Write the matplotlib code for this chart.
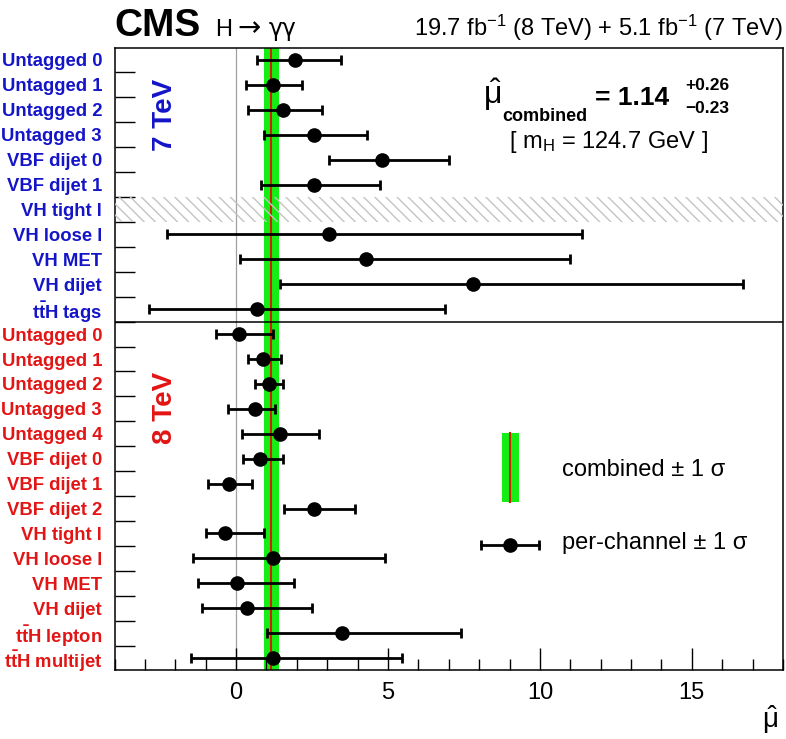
import matplotlib
matplotlib.use("Agg")
import matplotlib.pyplot as plt
from matplotlib.patches import Rectangle
from matplotlib.ticker import MultipleLocator
import numpy as np

plt.rcParams["font.family"] = ["Liberation Sans", "DejaVu Sans"]
plt.rcParams["mathtext.fontset"] = "custom"
plt.rcParams["mathtext.rm"] = "Liberation Sans"
plt.rcParams["mathtext.it"] = "Liberation Sans:italic"
plt.rcParams["mathtext.bf"] = "Liberation Sans:bold"

TTH = r"t$\mathbf{\bar{t}}$H"

# 7 TeV channels (nan = no measurement, drawn hatched)
labels_7tev = ["Untagged 0", "Untagged 1", "Untagged 2", "Untagged 3",
               "VBF dijet 0", "VBF dijet 1", "VH tight l", "VH loose l",
               "VH MET", "VH dijet", TTH + " tags"]
mu_7tev = [1.94, 1.20, 1.56, 2.58, 4.81, 2.57, np.nan, 3.06, 4.29, 7.80, 0.68]
lo_7tev = [0.69, 0.32, 0.39, 0.92, 3.05, 0.81, np.nan, -2.28, 0.13, 1.43, -2.88]
hi_7tev = [3.44, 2.18, 2.82, 4.32, 7.00, 4.73, np.nan, 11.37, 11.00, 16.68, 6.88]

# 8 TeV channels
labels_8tev = ["Untagged 0", "Untagged 1", "Untagged 2", "Untagged 3", "Untagged 4",
               "VBF dijet 0", "VBF dijet 1", "VBF dijet 2", "VH tight l",
               "VH loose l", "VH MET", "VH dijet", TTH + " lepton", TTH + " multijet"]
mu_8tev = [0.10, 0.89, 1.09, 0.61, 1.44, 0.79, -0.23, 2.57, -0.37, 1.20, 0.04, 0.36, 3.49, 1.20]
lo_8tev = [-0.65, 0.39, 0.63, -0.26, 0.19, 0.22, -0.93, 1.57, -1.00, -1.43, -1.24, -1.13, 1.03, -1.49]
hi_8tev = [1.20, 1.47, 1.56, 1.27, 2.73, 1.55, 0.52, 3.90, 0.93, 4.91, 1.91, 2.51, 7.39, 5.45]

mu_comb = 1.14
err_up = 0.26
err_dn = 0.23

BLUE = "#1414c8"
RED = "#e31414"
GREEN = "#14ee14"
LINE_RED = "#cc2200"

labels = labels_7tev + labels_8tev
colors = [BLUE] * len(labels_7tev) + [RED] * len(labels_8tev)
mu = np.array(mu_7tev + mu_8tev)
lo = np.array(lo_7tev + lo_8tev)
hi = np.array(hi_7tev + hi_8tev)
rows = np.arange(len(labels))

fig = plt.figure(figsize=(7.86, 7.39), dpi=100)
ax = fig.add_axes([0.1457, 0.0927, 0.8505, 0.843])

ax.axvspan(mu_comb - err_dn, mu_comb + err_up, color=GREEN, lw=0, zorder=1)
ax.axvline(mu_comb, color=LINE_RED, lw=1.5, zorder=2)
ax.axvline(0, color="#a0a0a0", lw=0.9, zorder=0.5)

for r in rows[np.isnan(mu)]:
    ax.axhspan(r - 0.5, r + 0.5, facecolor="none", edgecolor="#c4c4c4",
               hatch="\\\\\\", lw=0, zorder=3)

ax.axhline(len(labels_7tev) - 0.5, color="black", lw=1.1, zorder=4)

ax.errorbar(mu, rows, xerr=[mu - lo, hi - mu], fmt="o", color="black",
            ms=9.5, elinewidth=2, capsize=3.6, capthick=2, zorder=5)

ax.set_xlim(-4, 18)
ax.set_ylim(len(labels) - 0.5, -0.5)

ax.set_xticks([0, 5, 10, 15])
ax.xaxis.set_minor_locator(MultipleLocator(1))
ax.tick_params(axis="x", which="major", direction="in", length=16, width=1,
               labelsize=17, pad=8, top=False)
ax.tick_params(axis="x", which="minor", direction="in", length=8, width=1, top=False)

ax.set_yticks(np.arange(0.5, len(labels) - 1, 1), labels=[])
ax.tick_params(axis="y", which="major", direction="in", length=14.5, width=1, right=False)
ax.set_yticks(rows, labels=labels, minor=True)
ax.tick_params(axis="y", which="minor", length=0, pad=9, labelsize=13.3)
for lbl, c in zip(ax.get_yticklabels(minor=True), colors):
    lbl.set_color(c)
    lbl.set_fontweight("bold")

for s in ax.spines.values():
    s.set_linewidth(1.1)

# header
fig.text(0.146, 0.951, "CMS", fontsize=28, fontweight="bold", va="baseline")
fig.text(0.2735, 0.951, "H", fontsize=17, va="baseline")
fig.text(0.3015, 0.951, "\u2192", fontsize=20, va="baseline", family="DejaVu Sans")
fig.text(0.342, 0.951, "\u03b3\u03b3", fontsize=17, va="baseline", family="DejaVu Sans")
fig.text(0.996, 0.951, r"19.7 fb$^{\mathregular{-1}}$ (8 TeV) + 5.1 fb$^{\mathregular{-1}}$ (7 TeV)",
         fontsize=17, ha="right", va="baseline")

# combined result annotation
tr = ax.transAxes
ax.text(0.551, 0.909, r"$\hat{\mathrm{\mu}}$", fontsize=23, transform=tr, va="baseline")
ax.text(0.5797, 0.882, "combined", fontsize=13, fontweight="bold", transform=tr, va="baseline")
ax.text(0.7188, 0.9077, "= 1.14", fontsize=19, fontweight="bold", transform=tr, va="baseline")
ax.text(0.8534, 0.932, "+0.26", fontsize=12.5, fontweight="bold", transform=tr, va="baseline")
ax.text(0.8534, 0.8949, "\u22120.23", fontsize=12.5, fontweight="bold", transform=tr, va="baseline")
ax.text(0.739, 0.8387, r"[ m$_{\mathregular{H}}$ = 124.7 GeV ]", fontsize=17,
        transform=tr, ha="center", va="baseline")

ax.text(0.0755, 0.892, "7 TeV", rotation=90, fontsize=20, fontweight="bold",
        color=BLUE, transform=tr, ha="center", va="center")
ax.text(0.0755, 0.421, "8 TeV", rotation=90, fontsize=20, fontweight="bold",
        color=RED, transform=tr, ha="center", va="center")

# legend
ax.add_patch(Rectangle((0.579, 0.2705), 0.0265, 0.111, facecolor=GREEN, lw=0,
                       transform=tr, zorder=4))
ax.plot([0.5922, 0.5922], [0.2705, 0.3817], color=LINE_RED, lw=1.5, transform=tr, zorder=5)
ax.text(0.669, 0.3218, "combined \u00b1 1 \u03c3", fontsize=17, transform=tr, va="center")

ax.plot([0.548, 0.6355], [0.2014, 0.2014], color="black", lw=2, transform=tr, zorder=5)
ax.plot([0.548, 0.6355], [0.2014, 0.2014], ls="none", marker="|", ms=7.2, mew=2,
        color="black", transform=tr, zorder=5)
ax.plot([0.5916], [0.2014], "o", ms=9.5, color="black", transform=tr, zorder=6)
ax.text(0.669, 0.2047, "per-channel \u00b1 1 \u03c3", fontsize=17, transform=tr, va="center")

fig.text(0.99, 0.026, r"$\hat{\mathrm{\mu}}$", fontsize=20, ha="right", va="center")

fig.savefig("out.png", dpi=100)
